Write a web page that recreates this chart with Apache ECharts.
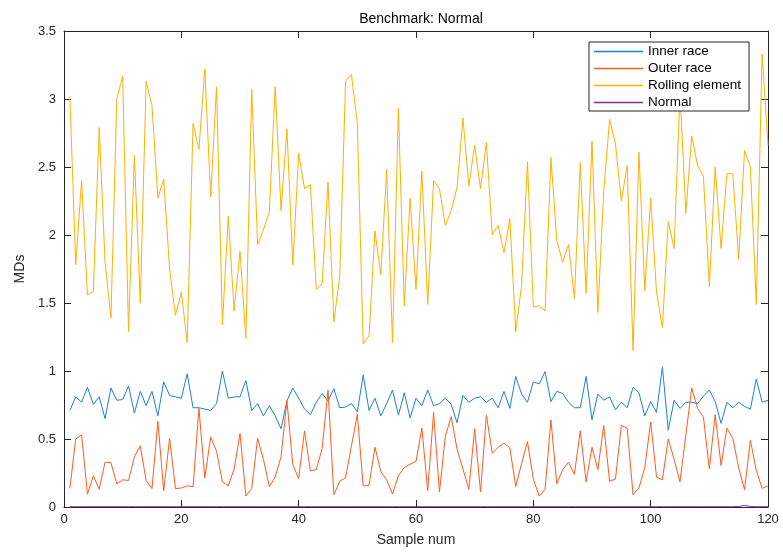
<!DOCTYPE html>
<html>
<head>
<meta charset="utf-8">
<script src="https://cdn.jsdelivr.net/npm/echarts@6/dist/echarts.min.js"></script>
<style>html,body{margin:0;padding:0;background:#fff;}#c{width:783px;height:552px;}</style>
</head>
<body>
<div id="c"></div>
<script>
const seriesNames = ['Inner race', 'Outer race', 'Rolling element', 'Normal'];
const xTicks = [0, 20, 40, 60, 80, 100, 120];
const yTicks = [0, 0.5, 1, 1.5, 2, 2.5, 3, 3.5];

const innerRace = [
0.71, 0.81, 0.77, 0.88, 0.755, 0.81, 0.65, 0.875, 0.785, 0.79,
0.89, 0.69, 0.85, 0.745, 0.85, 0.67, 0.92, 0.82, 0.81, 0.80,
0.98, 0.73, 0.73, 0.72, 0.71, 0.76, 1.00, 0.80, 0.81, 0.81,
0.93, 0.71, 0.76, 0.67, 0.745, 0.67, 0.575, 0.78, 0.875, 0.80,
0.72, 0.68, 0.77, 0.835, 0.78, 0.87, 0.73, 0.735, 0.76, 0.70,
0.97, 0.71, 0.80, 0.67, 0.76, 0.86, 0.675, 0.84, 0.655, 0.80,
0.745, 0.86, 0.745, 0.76, 0.80, 0.755, 0.62, 0.82, 0.77, 0.80,
0.81, 0.77, 0.80, 0.73, 0.85, 0.725, 0.96, 0.83, 0.77, 0.92,
0.905, 0.995, 0.775, 0.85, 0.835, 0.77, 0.73, 0.73, 0.96, 0.64,
0.83, 0.785, 0.81, 0.715, 0.77, 0.73, 0.88, 0.84, 0.67, 0.775,
0.695, 1.03, 0.565, 0.785, 0.725, 0.77, 0.77, 0.76, 0.815, 0.86,
0.775, 0.615, 0.77, 0.73, 0.77, 0.74, 0.72, 0.94, 0.77, 0.785
];
const outerRace = [
0.137, 0.50, 0.53, 0.094, 0.23, 0.13, 0.33, 0.325, 0.17, 0.20,
0.195, 0.37, 0.45, 0.195, 0.135, 0.63, 0.12, 0.505, 0.135, 0.14,
0.155, 0.15, 0.725, 0.215, 0.515, 0.41, 0.185, 0.155, 0.28, 0.54,
0.08, 0.137, 0.505, 0.35, 0.15, 0.22, 0.37, 0.78, 0.31, 0.21,
0.56, 0.265, 0.275, 0.43, 0.86, 0.09, 0.19, 0.215, 0.45, 0.68,
0.155, 0.16, 0.44, 0.26, 0.20, 0.096, 0.23, 0.29, 0.315, 0.335,
0.58, 0.12, 0.695, 0.11, 0.52, 0.665, 0.425, 0.28, 0.13, 0.575,
0.11, 0.675, 0.395, 0.44, 0.47, 0.435, 0.15, 0.32, 0.48, 0.205,
0.08, 0.13, 0.64, 0.17, 0.275, 0.33, 0.24, 0.56, 0.185, 0.44,
0.275, 0.60, 0.19, 0.205, 0.60, 0.58, 0.09, 0.14, 0.29, 0.625,
0.22, 0.20, 0.50, 0.35, 0.185, 0.53, 0.875, 0.725, 0.66, 0.28,
0.68, 0.305, 0.58, 0.505, 0.29, 0.127, 0.49, 0.27, 0.137, 0.155
];
const rollingElement = [
3.02, 1.78, 2.40, 1.56, 1.585, 2.79, 1.80, 1.39, 3.00, 3.17,
1.29, 2.585, 1.50, 3.13, 2.95, 2.27, 2.41, 1.75, 1.41, 1.58,
1.21, 2.82, 2.63, 3.22, 2.28, 3.09, 1.34, 2.14, 1.44, 1.88,
1.24, 3.07, 1.93, 2.04, 2.17, 3.09, 2.18, 2.78, 1.78, 2.60,
2.34, 2.37, 1.60, 1.64, 2.39, 1.36, 1.70, 3.13, 3.18, 2.82,
1.20, 1.26, 2.03, 1.71, 2.48, 1.21, 2.93, 1.48, 2.27, 1.60,
2.47, 1.49, 2.40, 2.34, 2.07, 2.18, 2.35, 2.86, 2.36, 2.66,
2.34, 2.68, 2.00, 2.07, 1.87, 2.12, 1.29, 1.63, 2.54, 1.47,
1.48, 1.44, 2.57, 1.96, 1.80, 1.93, 1.53, 2.53, 1.57, 2.69,
1.43, 2.32, 2.85, 2.67, 2.25, 2.51, 1.15, 2.61, 1.59, 2.27,
1.58, 1.32, 2.10, 1.90, 3.05, 2.16, 2.73, 2.51, 2.43, 1.62,
2.50, 1.90, 2.45, 2.45, 1.82, 2.62, 2.50, 1.49, 3.33, 2.66
];
const normal = [
0.002, 0.002, 0.002, 0.002, 0.002, 0.002, 0.002, 0.002, 0.002, 0.002,
0.002, 0.002, 0.002, 0.002, 0.002, 0.002, 0.002, 0.002, 0.002, 0.002,
0.002, 0.002, 0.002, 0.002, 0.002, 0.002, 0.002, 0.002, 0.002, 0.002,
0.002, 0.002, 0.002, 0.002, 0.002, 0.002, 0.002, 0.002, 0.002, 0.002,
0.002, 0.002, 0.002, 0.002, 0.002, 0.002, 0.002, 0.002, 0.002, 0.002,
0.002, 0.002, 0.002, 0.002, 0.002, 0.002, 0.002, 0.002, 0.002, 0.002,
0.002, 0.002, 0.002, 0.002, 0.002, 0.002, 0.002, 0.002, 0.002, 0.002,
0.002, 0.002, 0.002, 0.002, 0.002, 0.002, 0.002, 0.002, 0.002, 0.002,
0.002, 0.002, 0.002, 0.002, 0.002, 0.002, 0.002, 0.002, 0.002, 0.002,
0.002, 0.002, 0.002, 0.002, 0.002, 0.002, 0.002, 0.002, 0.002, 0.002,
0.002, 0.002, 0.002, 0.002, 0.002, 0.002, 0.002, 0.002, 0.002, 0.002,
0.002, 0.002, 0.002, 0.002, 0.004, 0.012, 0.004, 0.002, 0.002, 0.002
];
const sampleNum = innerRace.map((_, i) => i + 1);

const colors = ['#1f7fd0', '#ff5a1f', '#ffb000', '#7e2f8e'];
const seriesData = [innerRace, outerRace, rollingElement, normal];
const font = 'Liberation Sans, Arial, Helvetica, sans-serif';
const txt = '#262626';

const chart = echarts.init(document.getElementById('c'), null, {renderer: 'canvas'});

const tickStyle = {show: true, inside: true, length: 7, lineStyle: {color: '#262626', width: 1}};
const lineStyle = {show: true, onZero: false, lineStyle: {color: '#262626', width: 1}};

chart.setOption({
  animation: false,
  backgroundColor: '#fff',
  title: {
    text: 'Benchmark: Normal',
    left: 416, top: 7, textAlign: 'center',
    textStyle: {fontFamily: font, fontSize: 14, fontWeight: 'normal', color: '#000'}
  },
  legend: {
    orient: 'vertical',
    left: 589, top: 42,
    padding: [2, 8, 1, 5],
    itemGap: 2,
    itemWidth: 49, itemHeight: 1.5,
    icon: 'rect',
    backgroundColor: '#fff',
    borderColor: '#262626', borderWidth: 1,
    selectedMode: false,
    textStyle: {fontFamily: font, fontSize: 13.5, color: '#000', lineHeight: 15},
    data: seriesNames,
    z: 20
  },
  grid: {left: 64, right: 15, top: 31, bottom: 42, show: false},
  xAxis: [{
    type: 'value', min: 0, max: 120, interval: 20,
    axisLine: lineStyle, axisTick: tickStyle, splitLine: {show: false},
    axisLabel: {fontFamily: font, fontSize: 13, color: txt, margin: 6},
    name: 'Sample num', nameLocation: 'middle', nameGap: 26,
    nameTextStyle: {fontFamily: font, fontSize: 14, color: txt}
  }, {
    type: 'value', min: 0, max: 120, interval: 20, position: 'top',
    axisLine: lineStyle, axisTick: tickStyle, splitLine: {show: false},
    axisLabel: {show: false}
  }],
  yAxis: [{
    type: 'value', min: 0, max: 3.5, interval: 0.5,
    axisLine: lineStyle, axisTick: tickStyle, splitLine: {show: false},
    axisLabel: {fontFamily: font, fontSize: 13, color: txt, margin: 8},
    name: 'MDs', nameLocation: 'middle', nameGap: 37,
    nameTextStyle: {fontFamily: font, fontSize: 14, color: txt}
  }, {
    type: 'value', min: 0, max: 3.5, interval: 0.5, position: 'right',
    axisLine: lineStyle, axisTick: tickStyle, splitLine: {show: false},
    axisLabel: {show: false}
  }],
  series: seriesData.map((d, k) => ({
    name: seriesNames[k],
    type: 'line',
    xAxisIndex: 0, yAxisIndex: 0,
    data: d.map((v, i) => [sampleNum[i], v]),
    showSymbol: false,
    symbol: 'none',
    color: colors[k],
    lineStyle: {width: 1, color: colors[k]},
    z: 2 + k
  }))
});
</script>
</body>
</html>
